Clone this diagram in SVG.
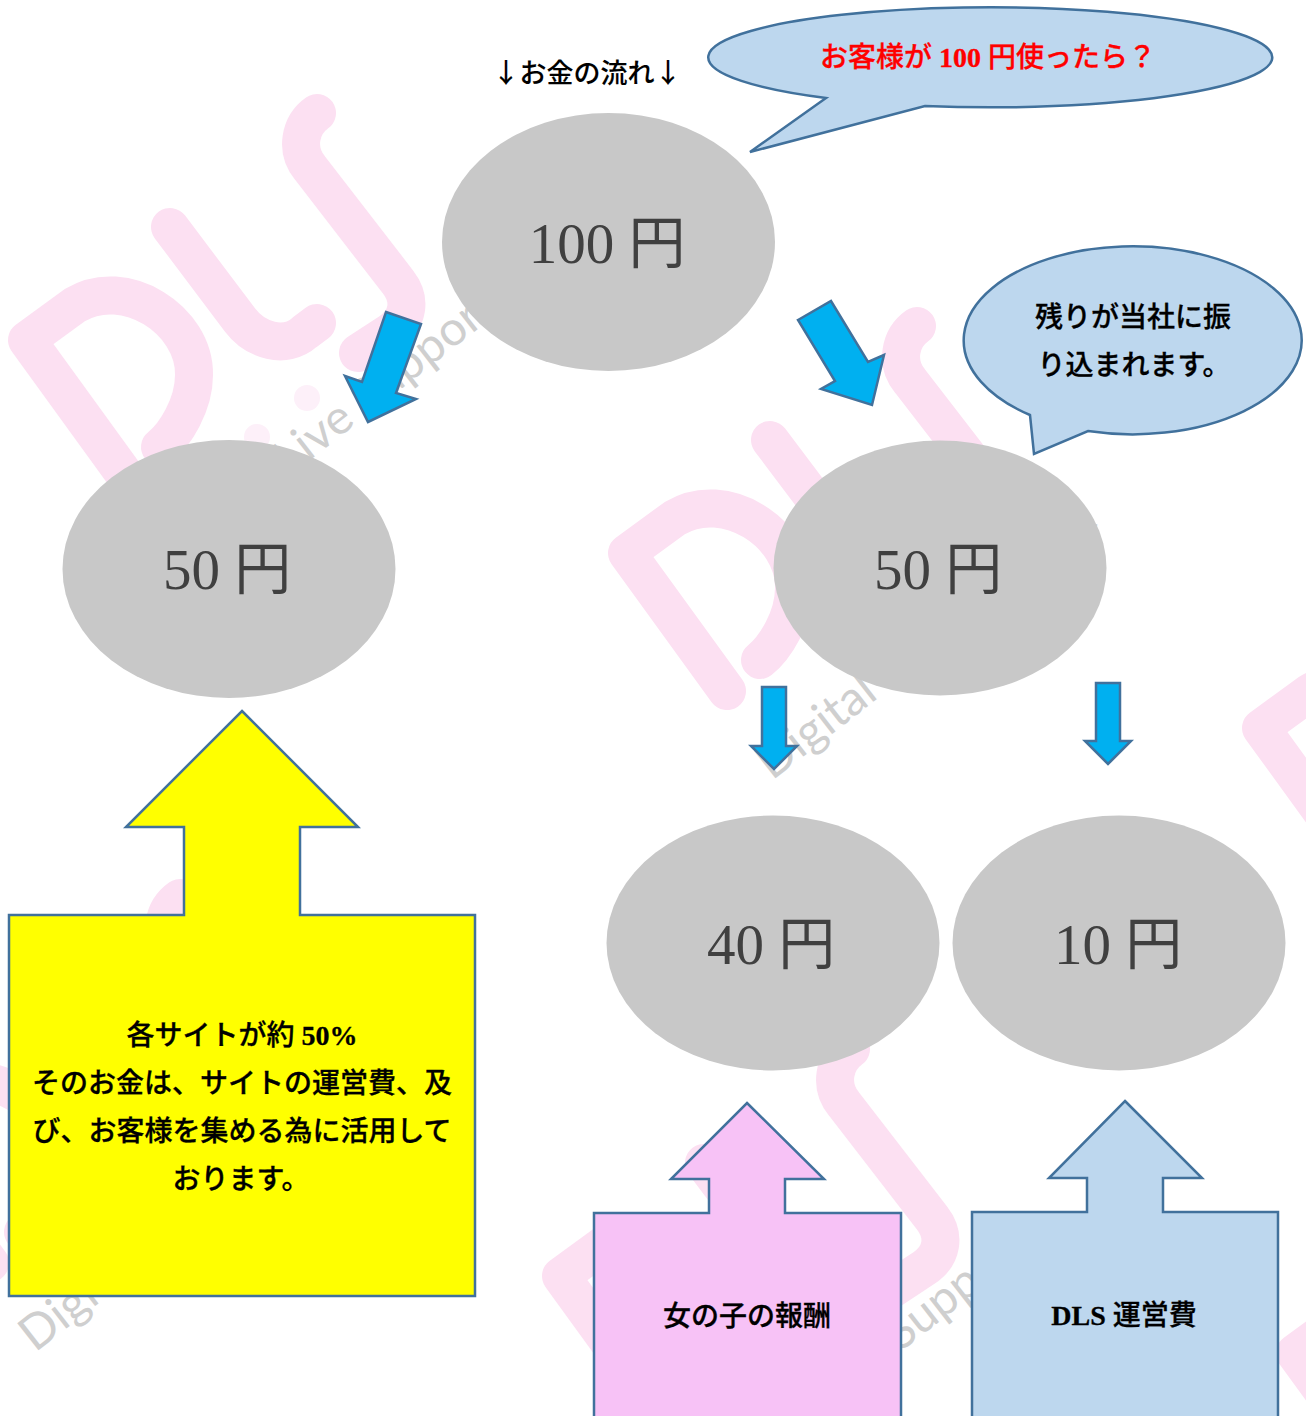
<svg xmlns="http://www.w3.org/2000/svg" width="1306" height="1416" viewBox="0 0 1306 1416">
<style>
.wm{fill:none;stroke:#fce0f2;stroke-width:38;stroke-linecap:round;stroke-linejoin:round}
.wd{fill:#fdf0f9}
.wt{font-family:"Lato","Noto Sans",sans-serif;font-size:48px;fill:#cfcfcf;font-weight:400}
.gray{fill:#c8c8c8}
.num{font-family:"Liberation Serif","Noto Sans CJK JP",serif;font-size:57px;fill:#404040;text-anchor:middle}
.lbl{font-family:"Liberation Serif","Noto Sans CJK JP",serif;font-size:28px;fill:#000;text-anchor:middle;font-weight:500;stroke:#000;stroke-width:.3}
.b{font-weight:700}
.shape{stroke:#41719c;stroke-width:2.5;stroke-linejoin:miter}
.arrow{fill:#00b0f0;stroke:#41719c;stroke-width:2.5}
.blue{fill:#bdd7ee}
</style>
<defs>
<g id="wmark">
<path class="wm" d="M127 478L27 340L75 305C125 275 195 320 194 375C194 405 175 435 160 447"/>
<path class="wm" d="M170 227L240 320C255 340 285 350 305 332L317 323"/>
<path class="wm" d="M317 113C300 125 295 150 310 168L398 282C412 300 408 320 390 332L358 353"/>
<circle class="wd" cx="307" cy="398" r="13"/>
<circle class="wd" cx="257" cy="437" r="13"/>
<text class="wt" transform="translate(172 568) rotate(-38)">Digital Live Support</text>
</g>
</defs>
<rect width="1306" height="1416" fill="#fff"/>
<g id="watermark">
<use href="#wmark"/>
<use href="#wmark" x="600" y="213"/>
<use href="#wmark" x="534" y="936"/>
<use href="#wmark" x="1234" y="388"/>
<use href="#wmark" x="-137" y="785"/>
<use href="#wmark" x="1268" y="1013"/>
</g>
<g id="flow-note"><text class="lbl" x="587" y="83" style="font-size:27px;font-family:'Noto Sans CJK JP',sans-serif;stroke-width:.1">↓お金の流れ↓</text></g>
<g id="callout-question">
<path class="shape blue" d="M826 98L750 152L925 106A282 50 0 1 0 826 98Z"/>
<text class="lbl" x="988" y="67" style="fill:#ff0000;stroke:#ff0000">お客様が <tspan class="b">100</tspan> 円使ったら？</text>
</g>
<g id="node-100"><ellipse class="gray" cx="608.5" cy="242" rx="166.5" ry="129"/><text class="num" x="607" y="263">100 円</text></g>
<g id="callout-rest">
<path class="shape blue" d="M1030 415L1034 454L1088 431A169 94 0 1 0 1030 415Z"/>
<text class="lbl" x="1133" y="327">残りが当社に振</text>
<text class="lbl" x="1134" y="375">り込まれます。</text>
</g>
<g id="node-50-left"><ellipse class="gray" cx="229" cy="569" rx="166.5" ry="129"/><text class="num" x="227" y="589">50 円</text></g>
<g id="node-50-right"><ellipse class="gray" cx="940" cy="568" rx="166.5" ry="127.5"/><text class="num" x="938" y="589">50 円</text></g>
<g id="node-40"><ellipse class="gray" cx="773" cy="943" rx="166.5" ry="127.5"/><text class="num" x="771" y="964">40 円</text></g>
<g id="node-10"><ellipse class="gray" cx="1119" cy="943" rx="166.5" ry="127.5"/><text class="num" x="1118" y="964">10 円</text></g>
<g id="connectors">
<path class="arrow" d="M386 312L421 324L396 393L416 399L368 422L345 376L362 382Z"/>
<path class="arrow" d="M798 320L831 301L868 362L884 355L872 405L821 389L835 381Z"/>
<path class="arrow" d="M762 687H786V746H797L774 769L751 746H762Z"/>
<path class="arrow" d="M1096 683H1120V741H1131L1108 764L1085 741H1096Z"/>
</g>
<g id="note-sites">
<path class="shape" fill="#ffff00" d="M242 711L358 827H300V915H475V1296H9V915H184V827H126Z"/>
<text class="lbl" x="242" y="1045">各サイトが約 <tspan class="b">50%</tspan></text>
<text class="lbl" x="242" y="1093">そのお金は、サイトの運営費、及</text>
<text class="lbl" x="242" y="1141">び、お客様を集める為に活用して</text>
<text class="lbl" x="241" y="1189">おります。</text>
</g>
<g id="note-girls">
<path class="shape" fill="#f7c2f6" d="M747 1103L824 1179H785V1213H901V1430H594V1213H709V1179H671Z"/>
<text class="lbl" x="747" y="1326">女の子の報酬</text>
</g>
<g id="note-dls">
<path class="shape blue" d="M1125 1101L1202 1178H1163V1212H1278V1430H972V1212H1087V1178H1049Z"/>
<text class="lbl" x="1124" y="1325"><tspan class="b">DLS</tspan> 運営費</text>
</g>
</svg>
